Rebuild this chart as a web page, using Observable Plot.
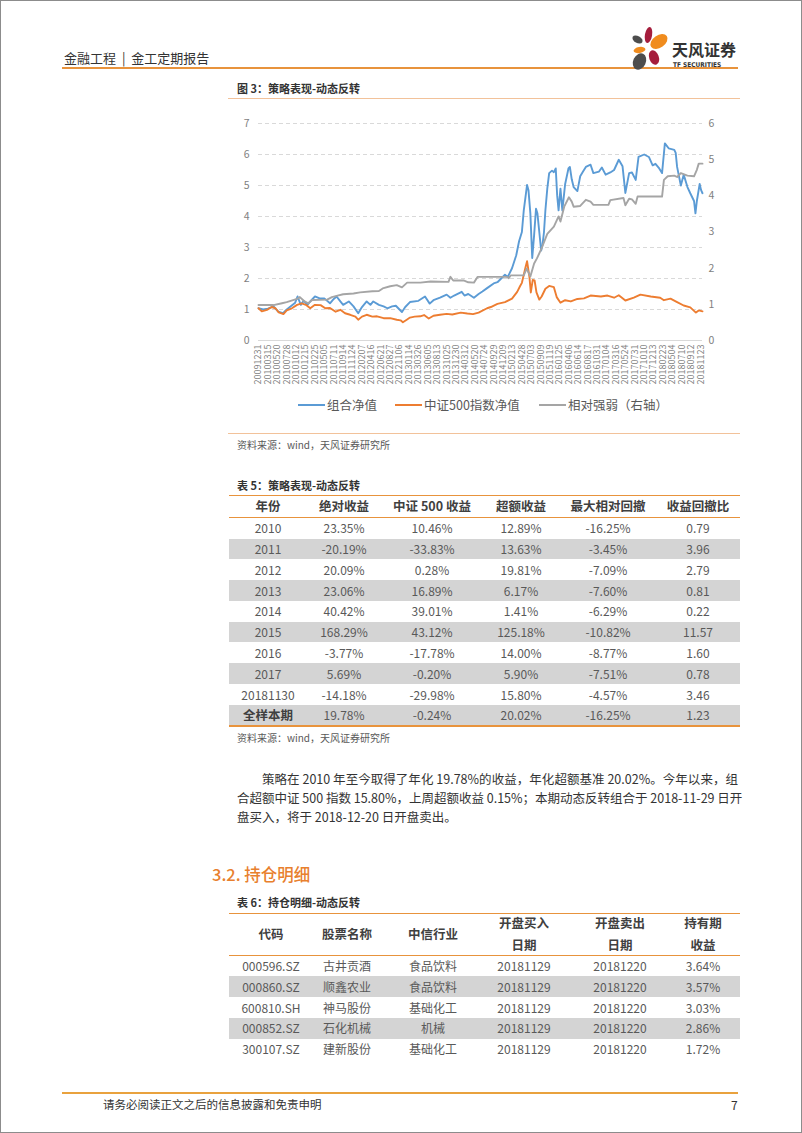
<!DOCTYPE html>
<html><head><meta charset="utf-8">
<script src="https://cdn.jsdelivr.net/npm/d3@7"></script>
<script src="https://cdn.jsdelivr.net/npm/@observablehq/plot@0.6"></script>
<style>
html,body{margin:0;padding:0;background:#fff;}
#page{position:relative;width:802px;height:1133px;overflow:hidden;font-family:"Noto Sans CJK SC","Noto Sans",sans-serif;color:#333;}
#frame{position:absolute;left:0;top:0;width:802px;height:1133px;box-sizing:border-box;border:1px solid #8c8c8c;pointer-events:none;}
.t{position:absolute;white-space:nowrap;line-height:1;transform:translateY(-50%);}
.c{transform:translate(-50%,-50%);text-align:center;}
.r{position:absolute;}
.jl{position:absolute;white-space:nowrap;line-height:1;transform:translateY(-50%);text-align:justify;text-align-last:justify;}
</style></head><body><div id="page"><div id="frame"></div></div>
<script>
// ---------- chart data ----------
const xLabels = ["20091231","20100315","20100520","20100728","20101012","20101215","20110225","20110505","20110711","20110914","20111124","20120207","20120416","20120621","20120827","20121106","20130114","20130326","20130605","20130813","20131025","20131230","20140312","20140520","20140724","20140929","20141209","20150213","20150428","20150703","20150909","20151119","20160125","20160406","20160614","20160817","20161031","20170104","20170316","20170524","20170731","20171010","20171213","20180223","20180504","20180710","20180912","20181123"];
const leftTicks = [0,1,2,3,4,5,6,7];
const rightTicks = [0,1,2,3,4,5,6];
// [position in label periods, value]
const portfolio = [[0,1.04],[0.5,1.0],[1.0,1.03],[1.6,1.1],[2.1,0.93],[2.6,0.88],[3.0,1.0],[3.5,1.12],[3.9,1.22],[4.15,1.42],[4.5,1.15],[4.8,1.28],[5.2,1.15],[5.5,1.26],[6.0,1.42],[6.5,1.36],[7.0,1.36],[7.6,1.2],[8.0,1.34],[8.3,1.42],[8.7,1.26],[9.0,1.15],[9.6,1.26],[10.1,1.1],[10.6,0.88],[11.0,1.08],[11.5,1.26],[11.9,1.15],[12.2,1.26],[12.8,1.15],[13.3,1.1],[13.7,1.04],[14.2,1.1],[14.6,1.12],[15.25,0.92],[15.6,1.08],[16.1,1.24],[17.0,1.28],[17.7,1.42],[18.2,1.19],[18.6,1.3],[19.3,1.38],[20.0,1.48],[20.4,1.38],[20.8,1.45],[21.6,1.57],[21.9,1.45],[22.3,1.5],[22.9,1.38],[23.4,1.5],[23.8,1.58],[24.3,1.69],[25.0,1.84],[25.4,1.88],[25.8,2.0],[26.2,2.12],[26.5,2.05],[26.95,2.33],[27.4,2.75],[27.7,3.2],[28.0,3.5],[28.2,4.2],[28.55,5.02],[28.7,4.85],[28.9,4.1],[29.1,2.66],[29.3,3.4],[29.5,4.25],[29.65,4.1],[29.85,3.5],[30.05,2.9],[30.2,3.1],[30.35,3.5],[30.5,4.2],[30.7,4.9],[30.9,5.4],[31.2,5.48],[31.4,5.43],[31.6,5.55],[31.75,4.68],[31.9,4.2],[32.1,4.9],[32.3,4.2],[32.6,5.05],[32.95,5.55],[33.1,5.6],[33.3,5.2],[33.5,4.95],[33.9,4.82],[34.2,5.3],[34.5,5.45],[34.8,5.6],[35.3,5.67],[35.6,5.4],[36.2,5.45],[36.5,5.58],[36.9,5.35],[37.4,5.42],[37.8,5.5],[38.3,5.83],[38.7,5.62],[39.0,4.76],[39.4,5.4],[39.7,5.42],[40.1,5.18],[40.4,5.92],[41.0,6.0],[41.5,5.92],[41.9,5.65],[42.2,5.7],[42.6,5.55],[42.9,5.4],[43.2,6.36],[43.6,6.2],[44.2,6.15],[44.35,6.05],[44.5,5.6],[44.9,5.0],[45.2,5.35],[45.6,4.95],[45.9,4.75],[46.3,4.5],[46.45,4.1],[46.6,4.5],[46.9,5.05],[47.05,4.85],[47.2,4.75]];
const index500 = [[0,1.04],[0.35,0.94],[0.9,0.99],[1.4,1.08],[1.8,1.04],[2.15,0.91],[2.65,0.85],[3.0,0.97],[3.55,1.04],[4.1,1.15],[4.6,1.2],[5.1,1.14],[5.5,1.04],[6.0,1.15],[6.6,1.14],[7.1,1.04],[7.6,1.05],[8.2,0.93],[8.7,0.99],[9.2,0.88],[9.75,0.83],[10.3,0.77],[10.6,0.67],[11.0,0.77],[11.5,0.83],[12.1,0.77],[12.6,0.78],[13.3,0.72],[14.0,0.72],[14.7,0.67],[15.1,0.65],[15.35,0.59],[15.8,0.68],[16.1,0.74],[16.6,0.77],[17.2,0.78],[17.6,0.82],[18.1,0.71],[18.6,0.8],[19.3,0.83],[20.0,0.86],[20.6,0.84],[21.5,0.9],[22.2,0.87],[22.8,0.85],[23.4,0.9],[24.3,1.04],[24.7,1.08],[25.4,1.18],[26.2,1.24],[26.95,1.35],[27.5,1.57],[27.8,1.75],[28.0,1.86],[28.4,2.38],[28.55,2.56],[28.8,2.05],[28.95,1.55],[29.15,1.95],[29.35,1.94],[29.55,1.55],[29.85,1.32],[30.1,1.42],[30.5,1.67],[30.9,1.76],[31.4,1.72],[31.7,1.4],[32.1,1.22],[32.6,1.3],[33.2,1.26],[33.9,1.34],[34.6,1.36],[35.3,1.45],[36.4,1.42],[37.1,1.45],[37.8,1.38],[38.3,1.46],[39.0,1.29],[39.9,1.38],[40.6,1.48],[41.7,1.42],[42.7,1.38],[43.1,1.3],[43.8,1.35],[44.5,1.24],[45.2,1.13],[45.9,1.07],[46.5,0.9],[46.8,0.97],[47.2,0.94]];
const relStrength = [[0,0.98],[1.6,0.98],[2.5,1.03],[3.0,1.06],[4.1,1.15],[4.4,1.2],[4.9,1.08],[5.3,1.03],[5.7,1.12],[7.3,1.13],[7.8,1.2],[8.4,1.24],[9.0,1.28],[10.1,1.3],[10.8,1.33],[12.1,1.36],[12.8,1.37],[13.2,1.44],[14.0,1.5],[14.7,1.53],[15.25,1.47],[15.8,1.6],[17.2,1.6],[18.3,1.63],[20.2,1.62],[20.4,1.76],[20.7,1.66],[21.8,1.66],[22.3,1.61],[22.9,1.6],[23.3,1.76],[26.4,1.76],[26.6,1.72],[26.8,1.8],[28.2,1.8],[28.5,1.99],[28.9,1.77],[29.3,2.13],[29.6,2.27],[30.1,2.55],[30.7,2.95],[31.4,3.15],[31.9,3.43],[32.1,3.29],[32.5,3.7],[33.0,3.96],[33.3,3.84],[33.5,3.7],[34.2,3.72],[34.8,3.89],[35.3,3.84],[35.6,3.75],[37.2,3.75],[37.4,3.88],[38.8,3.94],[39.0,3.74],[39.4,3.92],[39.7,3.9],[40.1,3.78],[40.3,3.98],[42.9,3.98],[43.1,4.44],[43.5,4.54],[44.2,4.56],[44.5,4.52],[44.9,4.63],[45.6,4.56],[46.3,4.54],[46.6,4.72],[46.8,4.89],[47.2,4.89]];
const seriesNames = ["组合净值","中证500指数净值","相对强弱（右轴）"];
const seriesColors = ["#5b9bd5","#ed7d31","#a5a5a5"];

// ---------- table data ----------
const t5Header = ["年份","绝对收益","中证 500 收益","超额收益","最大相对回撤","收益回撤比"];
const t5Years = ["2010","2011","2012","2013","2014","2015","2016","2017","20181130","全样本期"];
const t5Abs = ["23.35%","-20.19%","20.09%","23.06%","40.42%","168.29%","-3.77%","5.69%","-14.18%","19.78%"];
const t5Csi = ["10.46%","-33.83%","0.28%","16.89%","39.01%","43.12%","-17.78%","-0.20%","-29.98%","-0.24%"];
const t5Excess = ["12.89%","13.63%","19.81%","6.17%","1.41%","125.18%","14.00%","5.90%","15.80%","20.02%"];
const t5MaxDD = ["-16.25%","-3.45%","-7.09%","-7.60%","-6.29%","-10.82%","-8.77%","-7.51%","-4.57%","-16.25%"];
const t5Ratio = ["0.79","3.96","2.79","0.81","0.22","11.57","1.60","0.78","3.46","1.23"];

const t6Header = [["代码"],["股票名称"],["中信行业"],["开盘买入","日期"],["开盘卖出","日期"],["持有期","收益"]];
const t6Codes = ["000596.SZ","000860.SZ","600810.SH","000852.SZ","300107.SZ"];
const t6Names = ["古井贡酒","顺鑫农业","神马股份","石化机械","建新股份"];
const t6Industry = ["食品饮料","食品饮料","基础化工","机械","基础化工"];
const t6Buy = ["20181129","20181129","20181129","20181129","20181129"];
const t6Sell = ["20181220","20181220","20181220","20181220","20181220"];
const t6Ret = ["3.64%","3.57%","3.03%","2.86%","1.72%"];

// ---------- helpers ----------
const page = document.getElementById("page");
function txt(s, x, y, css = {}, center = false) {
  const d = document.createElement("div");
  d.className = center ? "t c" : "t";
  d.textContent = s;
  d.style.left = x + "px"; d.style.top = y + "px";
  Object.assign(d.style, css);
  page.appendChild(d); return d;
}
function rect(x, y, w, h, bg) {
  const d = document.createElement("div");
  d.className = "r";
  Object.assign(d.style, {left: x + "px", top: y + "px", width: w + "px", height: h + "px", background: bg});
  page.appendChild(d); return d;
}
const ORANGE = "#e8933c", LIGHTOR = "#f2c29a", SHADE = "#d4d4d4";

// ---------- header ----------
txt("金融工程 | 金工定期报告", 64, 57, {fontSize: "13px", color: "#333", wordSpacing: "3px"});
rect(62, 67, 676, 2, ORANGE);
const logo = document.createElementNS("http://www.w3.org/2000/svg", "svg");
logo.setAttribute("width", 802); logo.setAttribute("height", 80);
logo.style.position = "absolute"; logo.style.left = "0px"; logo.style.top = "0px";
logo.innerHTML = `
<ellipse cx="648.5" cy="35" rx="3.6" ry="8" transform="rotate(10 648.5 35)" fill="#a51d3c"/>
<ellipse cx="637.5" cy="39.5" rx="5.5" ry="3.4" transform="rotate(30 637.5 39.5)" fill="#4d4d4d"/>
<ellipse cx="659" cy="41.5" rx="9.5" ry="6.2" transform="rotate(-35 659 41.5)" fill="#f08c1e"/>
<ellipse cx="639.5" cy="50" rx="6" ry="3" transform="rotate(-10 639.5 50)" fill="#f08c1e"/>
<ellipse cx="654" cy="57.5" rx="4.8" ry="7.5" transform="rotate(-20 654 57.5)" fill="#a51d3c"/>
<ellipse cx="639.5" cy="61.5" rx="6.3" ry="8.5" transform="rotate(25 639.5 61.5)" fill="#4d4d4d"/>`;
page.appendChild(logo);
txt("天风证券", 672, 49, {fontSize: "16px", color: "#333", fontWeight: "700"});
txt("TF SECURITIES", 673, 64.5, {fontSize: "6.5px", color: "#333", fontWeight: "700", fontFamily: "'Liberation Sans Narrow','DejaVu Sans Condensed',sans-serif"});

// ---------- figure 3 ----------
txt("图 3：策略表现-动态反转", 237, 88, {fontSize: "11px", fontWeight: "700", color: "#333"});
rect(228, 98, 512, 1, LIGHTOR);

const FONT = "'Noto Sans CJK SC','Noto Sans',sans-serif";
const chart = Plot.plot({
  width: 510, height: 290,
  marginLeft: 38, marginRight: 28, marginTop: 13, marginBottom: 60,
  x: {domain: [0, 47.2], axis: null},
  y: {domain: [0, 7], axis: null},
  style: {fontFamily: FONT, fontSize: "10.5px", color: "#7f7f7f", background: "transparent", overflow: "visible"},
  marks: [
    Plot.gridY(leftTicks.slice(1), {stroke: "#d9d9d9", strokeOpacity: 1, strokeDasharray: "4,3", strokeWidth: 1}),
    Plot.ruleY([0], {stroke: "#d9d9d9", strokeWidth: 1}),
    Plot.axisY(leftTicks, {anchor: "left", tickSize: 0, tickPadding: 9, fill: "#7f7f7f", fontSize: 10.5}),
    Plot.axisY(rightTicks.map(v => v * 7 / 6), {anchor: "right", tickSize: 0, tickPadding: 6, fill: "#7f7f7f", fontSize: 10.5, tickFormat: d => String(Math.round(d * 6 / 7))}),
    Plot.axisX(d3.range(xLabels.length), {anchor: "bottom", tickSize: 0, tickPadding: 4, tickRotate: -90, tickFormat: i => xLabels[i], fill: "#7f7f7f", fontSize: 9}),
    Plot.line(portfolio, {x: d => d[0], y: d => d[1], stroke: seriesColors[0], strokeWidth: 1.9}),
    Plot.line(index500, {x: d => d[0], y: d => d[1], stroke: seriesColors[1], strokeWidth: 1.9}),
    Plot.line(relStrength, {x: d => d[0], y: d => d[1] * 7 / 6, stroke: seriesColors[2], strokeWidth: 1.9})
  ]
});
chart.style.position = "absolute"; chart.style.left = "220px"; chart.style.top = "110px";
page.appendChild(chart);

// legend
const legX = [298, 395, 539];
seriesNames.forEach((n, i) => {
  rect(legX[i], 404, 27, 2, seriesColors[i]);
  txt(n, legX[i] + 29, 405, {fontSize: "12.5px", color: "#595959"});
});
rect(228, 433, 512, 1, LIGHTOR);
txt("资料来源：wind，天风证券研究所", 237, 445, {fontSize: "10px", color: "#595959"});

// ---------- table 5 ----------
txt("表 5：策略表现-动态反转", 237, 485, {fontSize: "11px", fontWeight: "700", color: "#333"});
const T5L = 229, T5W = 511, T5TOP = 517.7, T5RH = 20.8;
const t5cx = [268, 344, 432, 521, 608, 698];
for (let i = 1; i < t5Years.length; i += 2) rect(T5L, T5TOP + T5RH * i, T5W, T5RH, SHADE);
rect(T5L, 494.5, T5W, 1.5, ORANGE);
rect(T5L, T5TOP - 0.5, T5W, 1, ORANGE);
rect(T5L, T5TOP + T5RH * t5Years.length - 0.5, T5W, 1.5, ORANGE);
t5Header.forEach((h, j) => txt(h, t5cx[j], 506, {fontSize: "12.5px", fontWeight: "700", color: "#404040"}, true));
const t5Cols = [t5Years, t5Abs, t5Csi, t5Excess, t5MaxDD, t5Ratio];
t5Years.forEach((_, i) => {
  const cy = T5TOP + T5RH * (i + 0.5);
  t5Cols.forEach((col, j) => {
    const bold = (i === t5Years.length - 1 && j === 0);
    txt(col[i], t5cx[j], cy, {fontSize: bold ? "12.5px" : "12px", color: bold ? "#404040" : "#595959", fontWeight: bold ? "700" : "400"}, true);
  });
});
txt("资料来源：wind，天风证券研究所", 237, 738, {fontSize: "10px", color: "#595959"});

// ---------- paragraph ----------
function jline(s, x, y, w, just) {
  const d = document.createElement("div");
  d.className = "jl"; d.textContent = s;
  Object.assign(d.style, {left: x + "px", top: y + "px", width: w + "px", fontSize: "12.5px", color: "#333"});
  if (!just) { d.style.textAlign = "left"; d.style.textAlignLast = "left"; }
  page.appendChild(d);
}
jline("策略在 2010 年至今取得了年化 19.78%的收益，年化超额基准  20.02%。今年以来，组", 262, 779, 476, true);
jline("合超额中证 500 指数 15.80%，上周超额收益 0.15%；本期动态反转组合于 2018-11-29 日开", 237, 798, 501, true);
jline("盘买入，将于 2018-12-20 日开盘卖出。", 237, 817, 400, false);

// ---------- section 3.2 ----------
txt("3.2. 持仓明细", 212, 874, {fontSize: "16.5px", color: "#e8802e", fontWeight: "500"});
txt("表 6：持仓明细-动态反转", 237, 902, {fontSize: "11px", fontWeight: "700", color: "#333"});
const T6L = 229, T6W = 511, T6TOP = 955.5, T6RH = 20.8;
const t6cx = [271, 347, 433, 524, 620, 703];
for (let i = 1; i < t6Codes.length; i += 2) rect(T6L, T6TOP + T6RH * i, T6W, T6RH, SHADE);
rect(T6L, 912.5, T6W, 1.5, ORANGE);
rect(T6L, T6TOP - 0.5, T6W, 1, ORANGE);
t6Header.forEach((h, j) => {
  if (h.length === 1) txt(h[0], t6cx[j], 934, {fontSize: "12.5px", fontWeight: "700", color: "#404040"}, true);
  else { txt(h[0], t6cx[j], 923, {fontSize: "12.5px", fontWeight: "700", color: "#404040"}, true);
         txt(h[1], t6cx[j], 944.5, {fontSize: "12.5px", fontWeight: "700", color: "#404040"}, true); }
});
const t6Cols = [t6Codes, t6Names, t6Industry, t6Buy, t6Sell, t6Ret];
t6Codes.forEach((_, i) => {
  const cy = T6TOP + T6RH * (i + 0.5);
  t6Cols.forEach((col, j) => txt(col[i], t6cx[j], cy, {fontSize: "12px", color: "#595959"}, true));
});

// ---------- footer ----------
rect(62, 1092, 676, 2, "#e9a23e");
txt("请务必阅读正文之后的信息披露和免责申明", 103, 1105, {fontSize: "11.5px", color: "#333"});
txt("7", 731, 1105, {fontSize: "12px", color: "#333"});
</script></body></html>
